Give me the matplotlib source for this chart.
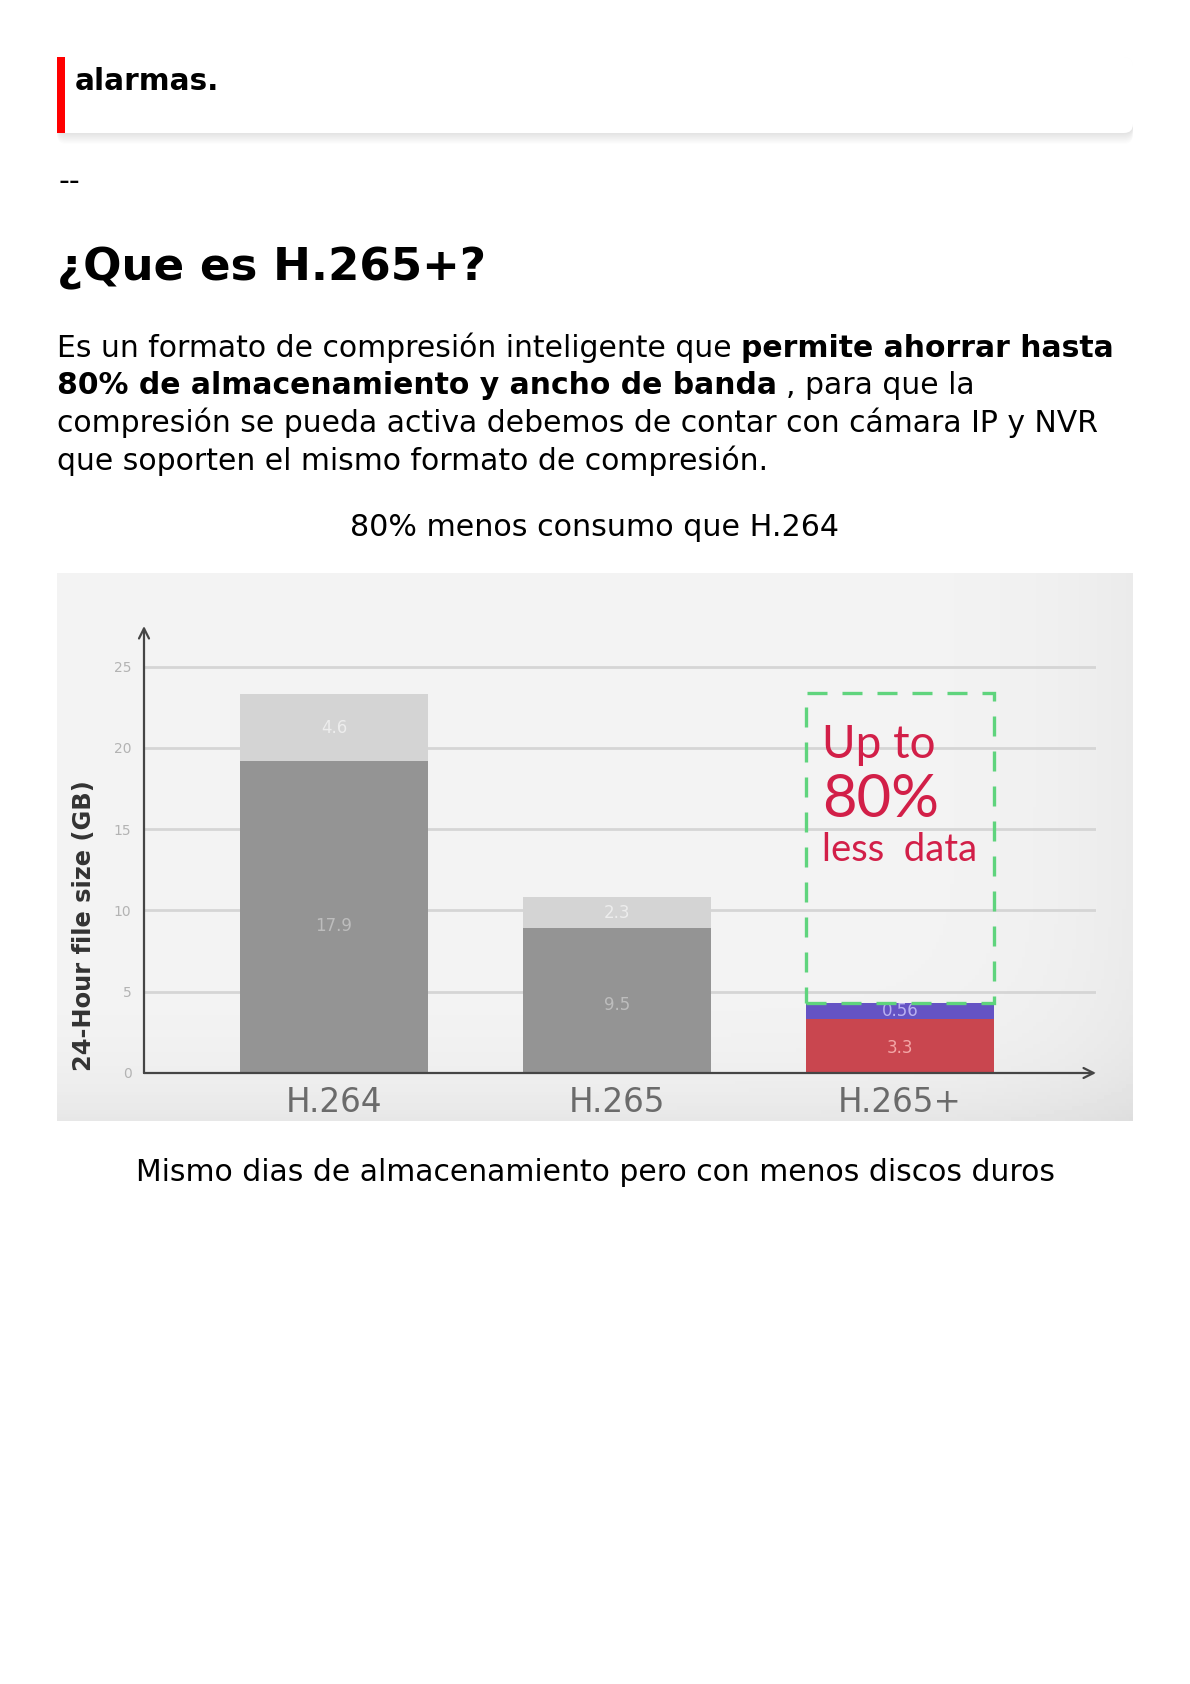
import numpy as np
import matplotlib.pyplot as plt
from matplotlib.patches import FancyBboxPatch, Rectangle

W, H = 1190, 1684

# datos del grafico
categories = ['H.264', 'H.265', 'H.265+']
base_vals = [19.2, 8.9, 3.3]
top_vals = [4.1, 1.9, 1.0]
base_labels = ['17.9', '9.5', '3.3']
top_labels = ['4.6', '2.3', '0.56']
y_ticks = [0, 5, 10, 15, 20, 25]
box_range = [4.3, 23.4]

base_colors = ['#949494', '#949494', '#c9464f']
top_colors = ['#d4d4d4', '#d4d4d4', '#6553c4']
base_txt_colors = ['#bdbdbd', '#bdbdbd', '#f3a7a7']
top_txt_colors = ['#ededed', '#ededed', '#b9b1f2']

fig = plt.figure(figsize=(W / 100, H / 100), dpi=100)
fig.patch.set_facecolor('white')

# capa de pagina en pixeles (y hacia abajo)
page = fig.add_axes([0, 0, 1, 1], zorder=0)
page.set_xlim(0, W)
page.set_ylim(H, 0)
page.axis('off')

# tarjeta "alarmas." con sombra
for i in range(10):
    page.add_patch(FancyBboxPatch((57, 57 + i * 1.2), 1076, 76, boxstyle='round,pad=0,rounding_size=9',
                                  fc='black', ec='none', alpha=0.012))
page.add_patch(FancyBboxPatch((57, 57), 1076, 76, boxstyle='round,pad=0,rounding_size=9',
                              fc='white', ec='none'))
page.add_patch(Rectangle((57, 57), 8, 76, fc='#ff0000', ec='none'))
page.text(75, 90, 'alarmas.', fontsize=21.3, fontweight='bold', va='baseline', color='black')

page.text(58, 190, '--', fontsize=21.6, va='baseline', color='black')
page.text(57, 280, '¿Que es H.265+?', fontsize=32.5, fontweight='bold', va='baseline', color='black')

# parrafo con partes en negrita
renderer = fig.canvas.get_renderer()
fs = 21.5
lines = [
    [('Es un formato de compresión inteligente que', 'normal'), ('permite ahorrar hasta', 'bold')],
    [('80% de almacenamiento y ancho de banda', 'bold'), (', para que la', 'normal')],
    [('compresión se pueda activa debemos de contar con cámara IP y NVR', 'normal')],
    [('que soporten el mismo formato de compresión.', 'normal')],
]
baselines = [357, 394.5, 432, 469.5]


def run_width(s, weight):
    t = page.text(0, 0, s, fontsize=fs, fontweight=weight)
    bb = t.get_window_extent(renderer)
    t.remove()
    return bb.width


space_w = run_width('a a', 'normal') - run_width('aa', 'normal')
for runs, yb in zip(lines, baselines):
    x = 57
    for s, weight in runs:
        t = page.text(x, yb, s, fontsize=fs, fontweight=weight, va='baseline', color='black')
        bb = t.get_window_extent(renderer)
        x = x + bb.width + space_w

page.text(595, 536, '80% menos consumo que H.264', fontsize=21.7, ha='center', va='baseline', color='black')
page.text(595, 1181, 'Mismo dias de almacenamiento pero con menos discos duros', fontsize=21.5,
          ha='center', va='baseline', color='black')

# fondo de la imagen
bg = fig.add_axes([57 / W, 1 - 1121 / H, 1076 / W, 548 / H], zorder=1)
xs = np.linspace(0, 1, 300)
ys = np.linspace(0, 1, 150)
gx, gy = np.meshgrid(xs, ys)
shade = 0.955 - 0.035 * gx ** 10 - 0.05 * gy ** 10
bg.imshow(shade, cmap='gray', vmin=0, vmax=1, aspect='auto', extent=(0, 1, 0, 1), origin='upper')
bg.axis('off')

# grafico
ax = fig.add_axes([144 / W, 1 - 1073 / H, (1096 - 144) / W, (1073 - 626) / H], zorder=2)
ax.patch.set_alpha(0)
x = np.arange(len(categories))
width = 0.664
ax.bar(x, base_vals, width=width, color=base_colors, zorder=3)
ax.bar(x, top_vals, width=width, bottom=base_vals, color=top_colors, zorder=3)

for i in range(len(categories)):
    ax.text(x[i], base_vals[i] * 0.47, base_labels[i], ha='center', va='center', fontsize=12,
            color=base_txt_colors[i], zorder=4)
    ax.text(x[i], base_vals[i] + top_vals[i] / 2, top_labels[i], ha='center', va='center',
            fontsize=12, color=top_txt_colors[i], zorder=4)

ax.set_xlim(-0.671, 2.693)
ax.set_ylim(0, 27.5)
ax.set_yticks(y_ticks)
ax.set_xticks(x)
ax.set_xticklabels(categories)
ax.yaxis.grid(True, color='#d5d5d5', lw=2)
ax.set_axisbelow(True)
for sp in ax.spines.values():
    sp.set_visible(False)
ax.tick_params(axis='y', length=0, pad=9, labelsize=10, labelcolor='#b3b3b3')
ax.tick_params(axis='x', length=0, pad=9, labelsize=23.5, labelcolor='#6b6b6b')

# ejes con flecha
ax.annotate('', xy=(0, 1), xytext=(0, 0), xycoords='axes fraction',
            arrowprops=dict(arrowstyle='->', color='#454545', lw=1.6, mutation_scale=18,
                            shrinkA=0, shrinkB=0), zorder=5)
ax.annotate('', xy=(1, 0), xytext=(0, 0), xycoords='axes fraction',
            arrowprops=dict(arrowstyle='->', color='#454545', lw=1.6, mutation_scale=18,
                            shrinkA=0, shrinkB=0), zorder=5)

ax.set_ylabel('24-Hour file size (GB)', fontsize=17.4, fontweight='bold', color='#333333')
ax.yaxis.set_label_coords(-0.05, 0.329)

# caja punteada verde
ax.add_patch(Rectangle((x[2] - width / 2, box_range[0]), width, box_range[1] - box_range[0],
                       fill=False, ec='#5fd47d', lw=2.4, ls=(0, (6, 4.5)), zorder=5))
ax.text(1.724, 20.2, 'Up to', fontsize=33, color='#d21f48', family='Lato', va='center', ha='left')
ax.text(1.724, 16.8, '80%', fontsize=43, color='#d21f48', family='Lato', va='center', ha='left')
ax.text(1.724, 13.7, 'less  data', fontsize=27.5, color='#d21f48', family='Lato', va='center', ha='left')

fig.savefig('out.png', dpi=100, facecolor='white')
